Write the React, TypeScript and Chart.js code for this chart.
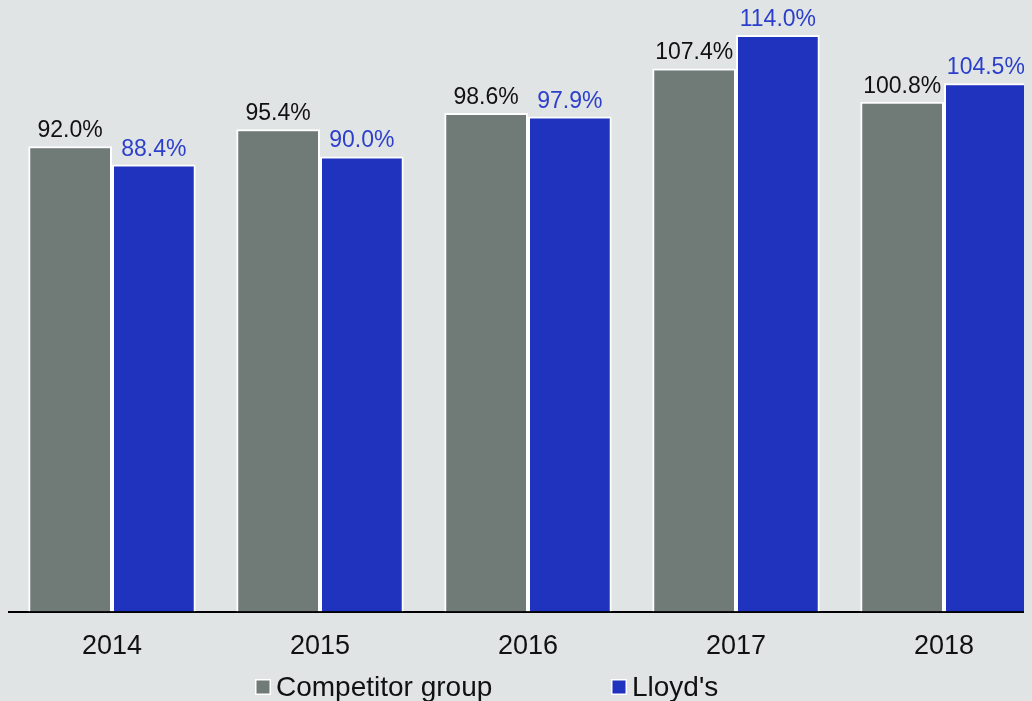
import React, { useEffect, useRef } from "react";
import { Chart, registerables } from "chart.js";

Chart.register(...registerables);

const categories = ["2014", "2015", "2016", "2017", "2018"];
const competitorValues = [92.0, 95.4, 98.6, 107.4, 100.8];
const lloydsValues = [88.4, 90.0, 97.9, 114.0, 104.5];
const seriesLabels = ["Competitor group", "Lloyd's"];

const FONT = "'Liberation Sans', Arial, Helvetica, sans-serif";
const GRAY = "#707b78";
const BLUE = "#1f33bf";
const BLUE_TEXT = "#2b3fcb";
const BG = "#e1e4e5";

const valueLabelPlugin = {
  id: "valueLabels",
  afterDatasetsDraw(chart: any) {
    const ctx = chart.ctx;
    ctx.save();
    ctx.font = `23px ${FONT}`;
    ctx.textAlign = "center";
    ctx.textBaseline = "alphabetic";
    chart.data.datasets.forEach((ds: any, i: number) => {
      const meta = chart.getDatasetMeta(i);
      ctx.fillStyle = i === 0 ? "#111111" : BLUE_TEXT;
      meta.data.forEach((bar: any, j: number) => {
        const v = ds.data[j];
        ctx.fillText(v.toFixed(1) + "%", bar.x, bar.y - 9);
      });
    });
    ctx.restore();
  },
};

const customLegendPlugin = {
  id: "customLegend",
  afterDraw(chart: any) {
    const ctx = chart.ctx;
    const positions = [247, 603];
    const cy = 679;
    ctx.save();
    ctx.font = `28px ${FONT}`;
    ctx.textBaseline = "middle";
    ctx.textAlign = "left";
    chart.data.datasets.forEach((ds: any, i: number) => {
      const x = positions[i];
      ctx.fillStyle = "#ffffff";
      ctx.fillRect(x, cy - 8, 16, 16);
      ctx.fillStyle = ds.backgroundColor;
      ctx.fillRect(x + 1.5, cy - 6.5, 13, 13);
      ctx.fillStyle = "#111111";
      ctx.fillText(ds.label, x + 21, cy + 1);
    });
    ctx.restore();
  },
};

export default function App() {
  const canvasRef = useRef<HTMLCanvasElement | null>(null);

  useEffect(() => {
    document.documentElement.style.background = BG;
    document.body.style.background = BG;
    document.documentElement.style.overflow = "hidden";
    document.body.style.overflow = "hidden";
    const canvas = canvasRef.current;
    if (!canvas) return;
    const chart = new Chart(canvas, {
      type: "bar",
      data: {
        labels: categories,
        datasets: [
          {
            label: seriesLabels[0],
            data: competitorValues,
            backgroundColor: GRAY,
            borderColor: "#ffffff",
            borderWidth: 2,
            categoryPercentage: 0.805,
            barPercentage: 1.0,
          },
          {
            label: seriesLabels[1],
            data: lloydsValues,
            backgroundColor: BLUE,
            borderColor: "#ffffff",
            borderWidth: 2,
            categoryPercentage: 0.805,
            barPercentage: 1.0,
          },
        ],
      },
      options: {
        responsive: false,
        animation: false,
        devicePixelRatio: 1,
        layout: { padding: { top: 17, bottom: 19, left: 0, right: 0 } },
        plugins: {
          legend: { display: false },
          tooltip: { enabled: false },
        },
        scales: {
          x: {
            grid: { display: false, drawTicks: false },
            border: { display: true, color: "#000000", width: 2 },
            ticks: {
              color: "#111111",
              font: { family: FONT, size: 27 },
              padding: 19,
              maxRotation: 0,
            },
          },
          y: {
            display: false,
            min: 0,
            max: 116,
          },
        },
      },
      plugins: [valueLabelPlugin, customLegendPlugin],
    });
    return () => chart.destroy();
  }, []);

  return (
    <div style={{ width: 1040, height: 693, overflow: "hidden", background: BG }}>
      <canvas ref={canvasRef} width={1040} height={693} style={{ display: "block", width: 1040, height: 693 }} />
    </div>
  );
}
